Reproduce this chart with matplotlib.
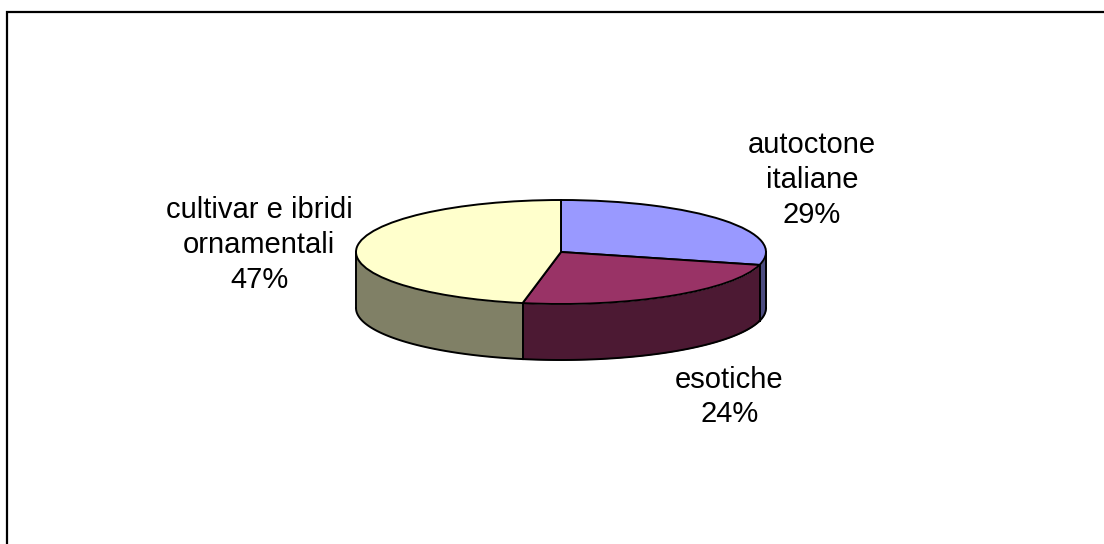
import numpy as np
import matplotlib.pyplot as plt
from matplotlib.patches import Rectangle

# -----------------------------
# data
# -----------------------------
labels = ["autoctone\nitaliane", "esotiche", "cultivar e ibridi\nornamentali"]
shares = [29, 24, 47]
top_colors = ["#9999FF", "#993366", "#FFFFCC"]
side_colors = ["#4C4C80", "#4C1933", "#808066"]
label_pos = [(1.224, 1.385), (0.822, -2.788), (-1.473, 0.135)]

# -----------------------------
# figure / layout (unit pie radius, squashed ellipse)
# -----------------------------
W, H = 1104, 544
cx, cy = 561, 252      # pie centre in pixels (from top)
rx, ry = 205, 52       # ellipse radii in pixels
depth = 56 / ry        # thickness of the pie in y units

fig = plt.figure(figsize=(W / 100, H / 100), dpi=100)
ax = fig.add_axes([0, 0, 1, 1])

frac = np.array(shares) / sum(shares)
edges = 90 - 360 * np.concatenate([[0], np.cumsum(frac)])

# sides (only the front half is visible)
for i in range(len(shares)):
    a_lo, a_hi = edges[i + 1], edges[i]
    for k in (-1, 0, 1):
        lo = max(a_lo, -180 + 360 * k)
        hi = min(a_hi, 360 * k)
        if hi <= lo:
            continue
        th = np.radians(np.linspace(lo, hi, 120))
        x = np.cos(th)
        ytop = np.sin(th)
        ybot = ytop - depth
        ax.fill_between(x, ybot, ytop, color=side_colors[i], lw=0, zorder=1)
        ax.plot(x, ybot, color="black", lw=1.4, zorder=2)
        for a in (lo, hi):
            ax.plot([np.cos(np.radians(a))] * 2,
                    [np.sin(np.radians(a)), np.sin(np.radians(a)) - depth],
                    color="black", lw=1.4, zorder=2)

# top face
wedges, _ = ax.pie(shares, colors=top_colors, startangle=90, counterclock=False,
                   radius=1, center=(0, 0),
                   wedgeprops=dict(edgecolor="black", linewidth=1.4))
for w in wedges:
    w.set_zorder(3)

# labels
for lab, v, (lx, ly) in zip(labels, shares, label_pos):
    ax.text(lx, ly, f"{lab}\n{v}%", ha="center", va="center",
            multialignment="center", fontsize=21,
            family="Liberation Sans", linespacing=1.3, zorder=4)

ax.set_xlim(-cx / rx, (W - cx) / rx)
ax.set_ylim(-(H - cy) / ry, cy / ry)
ax.set_aspect("auto")
ax.axis("off")

# chart-area border (runs off the right and bottom edges)
fig.add_artist(Rectangle((6.5 / W, -0.1), 1.2, 1 - 11.5 / H + 0.1,
                         transform=fig.transFigure, fill=False,
                         edgecolor="black", linewidth=1.6))

fig.savefig("out.png", dpi=100)
